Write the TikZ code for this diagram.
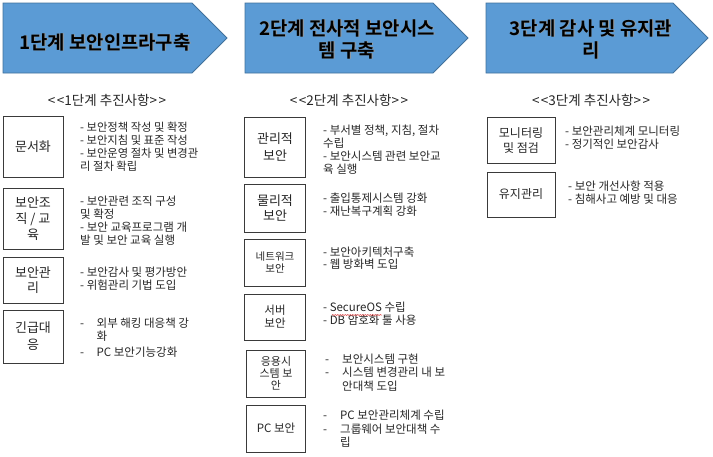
\documentclass[tikz,border=0pt]{standalone}
\usepackage{fontspec}
\setmainfont{Noto Sans CJK KR}[BoldFont={Noto Sans CJK KR Bold}]
\usetikzlibrary{decorations.pathmorphing}
\definecolor{chev}{HTML}{5B9BD5}
\definecolor{chevline}{HTML}{41719C}
\definecolor{boxline}{HTML}{3A3A3A}
\definecolor{txt}{HTML}{262626}
\definecolor{squig}{HTML}{E04040}
\newcommand{\lt}{{<}\kern1.5pt{<}}
\newcommand{\gtt}{{>}\kern1.5pt{>}}
\begin{document}
\begin{tikzpicture}[x=1pt,y=-1pt,
  chevron/.style={fill=chev,draw=chevline,line width=0.8pt},
  titletext/.style={font=\fontsize{18.8}{22}\selectfont\bfseries,align=center,text=black,inner sep=0pt},
  titleshadow/.style={font=\fontsize{18.8}{22}\selectfont\bfseries,align=center,text=black!40,inner sep=0pt},
  headtext/.style={font=\fontsize{13.5}{15}\selectfont,text=txt,inner sep=0pt},
  catbox/.style={draw=boxline,line width=1pt,align=center,inner sep=0pt,text=txt,font=\fontsize{13}{16}\selectfont},
  itemtext/.style={anchor=west,align=left,inner sep=0pt,text=txt,font=\fontsize{11.5}{12.5}\selectfont}
]
\useasboundingbox (0,0) rectangle (713,456);

% chevrons
\draw[chevron] (3,3) -- (192,3) -- (227,38) -- (192,73) -- (3,73) -- cycle;
\draw[chevron] (245,3) -- (433,3) -- (468,38) -- (433,73) -- (245,73) -- cycle;
\draw[chevron] (486,3) -- (673,3) -- (708,38) -- (673,73) -- (486,73) -- cycle;

\node[titleshadow] at (105.8,42.8) {1단계 보안인프라구축};
\node[titletext] (s1) at (105,42) {1단계 보안인프라구축};
\node[titleshadow] at (347.8,39.8) {2단계 전사적 보안시스\\템 구축};
\node[titletext] (s2) at (347,39) {2단계 전사적 보안시스\\템 구축};
\node[titleshadow] at (591.8,39.8) {3단계 감사 및 유지관\\리};
\node[titletext] (s3) at (591,39) {3단계 감사 및 유지관\\리};

% headers
\node[headtext] (h1) at (107,100) {\lt 1단계 추진사항\gtt};
\node[headtext] (h2) at (349,100) {\lt 2단계 추진사항\gtt};
\node[headtext] (h3) at (591,100) {\lt 3단계 추진사항\gtt};

% column 1 boxes
\node[catbox,minimum width=60,minimum height=61] (c1a) at (33,146.5) {문서화};
\node[catbox,minimum width=60,minimum height=61,font=\fontsize{13}{16}\selectfont] (c1b) at (33,218.5) {보안조\\직 / 교\\육};
\node[catbox,minimum width=60,minimum height=46,font=\fontsize{13}{15.5}\selectfont] (c1c) at (33,280) {보안관\\리};
\node[catbox,minimum width=60,minimum height=53,font=\fontsize{13}{17}\selectfont] (c1d) at (33,336.5) {긴급대\\응};

% column 1 texts
\node[itemtext,font=\fontsize{11.3}{12.9}\selectfont] (t1a) at (80,146.5) {- 보안정책 작성 및 확정\\- 보안지침 및 표준 작성\\- 보안운영 절차 및 변경관\\리 절차 확립};
\node[itemtext,font=\fontsize{11.5}{13.2}\selectfont] (t1b) at (80,220.5) {- 보안관련 조직 구성\\및 확정\\- 보안 교육프로그램 개\\발 및 보안 교육 실행};
\node[itemtext,font=\fontsize{11.5}{13}\selectfont] (t1c) at (80,278.5) {- 보안감사 및 평가방안\\- 위험관리 기법 도입};
\node[itemtext,font=\fontsize{11.5}{12.8}\selectfont] (t1d) at (80,339) {\begin{tabular}{@{}l@{\hspace{12.5pt}}l@{}}-&외부 해킹 대응책 강\\&화\\[2pt]-&PC 보안기능강화\end{tabular}};

% column 2 boxes
\node[catbox,minimum width=61,minimum height=60,font=\fontsize{13}{17}\selectfont] (c2a) at (275,147) {관리적\\보안};
\node[catbox,minimum width=61,minimum height=48,font=\fontsize{13}{15.5}\selectfont] (c2b) at (275,208) {물리적\\보안};
\node[catbox,minimum width=61,minimum height=47,font=\fontsize{10.5}{12}\selectfont] (c2c) at (275,262.5) {네트워크\\보안};
\node[catbox,minimum width=61,minimum height=46,font=\fontsize{11.5}{13}\selectfont] (c2d) at (275,317) {서버\\보안};
\node[catbox,minimum width=59,minimum height=47,font=\fontsize{11}{11.8}\selectfont] (c2e) at (276,373.5) {응용시\\스템 보\\안};
\node[catbox,minimum width=59,minimum height=47,font=\fontsize{11.5}{13}\selectfont] (c2f) at (276,428.5) {PC 보안};

% column 2 texts
\node[itemtext,font=\fontsize{11.5}{13}\selectfont] (t2a) at (323,149.5) {- 부서별 정책, 지침, 절차\\수립\\- 보안시스템 관련 보안교\\육 실행};
\node[itemtext,font=\fontsize{11.5}{13}\selectfont] (t2b) at (323,205) {- 출입통제시스템 강화\\- 재난복구계획 강화};
\node[itemtext,font=\fontsize{11.5}{12.5}\selectfont] (t2c) at (323,258) {- 보안아키텍처구축\\- 웹 방화벽 도입};
\node[itemtext,font=\fontsize{11.5}{12.8}\selectfont] (t2d) at (323,314) {- SecureOS 수립\\- DB 암호화 툴 사용};
\node[itemtext,font=\fontsize{11.5}{12.5}\selectfont] (t2e) at (325,374) {\begin{tabular}{@{}l@{\hspace{13pt}}l@{}}-&보안시스템 구현\\-&시스템 변경관리 내 보\\&안대책 도입\end{tabular}};
\node[itemtext,font=\fontsize{11.5}{12.8}\selectfont] (t2f) at (323,430.5) {\begin{tabular}{@{}l@{\hspace{13pt}}l@{}}-&PC 보안관리체계 수립\\-&그룹웨어 보안대책 수\\&립\end{tabular}};

% spell-check squiggle under SecureOS
\draw[squig,line width=0.5pt,decorate,decoration={snake,amplitude=0.6pt,segment length=2.5pt}] (332,315) -- (382,315);

% column 3 boxes
\node[catbox,minimum width=68,minimum height=46,font=\fontsize{12}{15}\selectfont] (c3a) at (521,140) {모니터링\\및 점검};
\node[catbox,minimum width=68,minimum height=45,font=\fontsize{12}{15}\selectfont] (c3b) at (521,194.5) {유지관리};

% column 3 texts
\node[itemtext,font=\fontsize{11.5}{12.5}\selectfont] (t3a) at (565,137.5) {- 보안관리체계 모니터링\\- 정기적인 보안감사};
\node[itemtext,font=\fontsize{11.5}{12.5}\selectfont] (t3b) at (568,192.5) {- 보안 개선사항 적용\\- 침해사고 예방 및 대응};
\end{tikzpicture}
\end{document}
